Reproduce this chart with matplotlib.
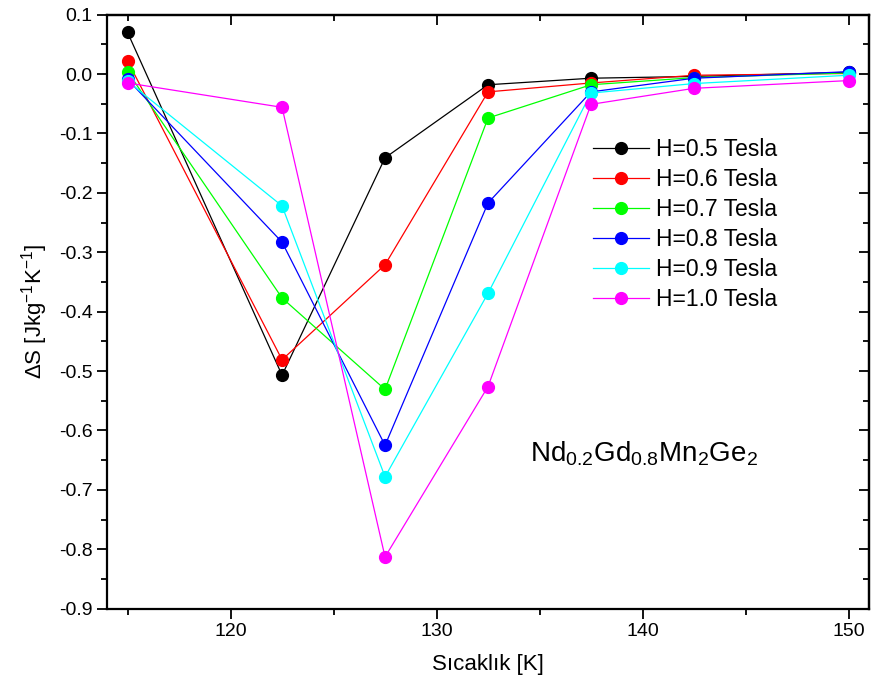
import matplotlib
matplotlib.use('Agg')
import matplotlib.pyplot as plt
from matplotlib.ticker import MultipleLocator, FormatStrFormatter

plt.rcParams['font.family'] = ['Liberation Sans', 'DejaVu Sans']
plt.rcParams['mathtext.fontset'] = 'custom'
plt.rcParams['mathtext.rm'] = 'Liberation Sans'
plt.rcParams['mathtext.it'] = 'Liberation Sans'
plt.rcParams['axes.unicode_minus'] = False

# Temperature points (K)
temps = [115, 122.5, 127.5, 132.5, 137.5, 142.5, 150]

# Entropy change for each field
h05 = [0.070, -0.507, -0.141, -0.018, -0.007, -0.004, 0.003]
h06 = [0.022, -0.481, -0.321, -0.030, -0.015, -0.002, 0.001]
h07 = [0.004, -0.377, -0.531, -0.074, -0.018, -0.006, 0.002]
h08 = [-0.009, -0.283, -0.625, -0.217, -0.030, -0.007, 0.004]
h09 = [-0.012, -0.222, -0.678, -0.369, -0.032, -0.016, -0.002]
h10 = [-0.015, -0.056, -0.813, -0.526, -0.051, -0.024, -0.011]

series = [h05, h06, h07, h08, h09, h10]
labels = ['H=0.5 Tesla', 'H=0.6 Tesla', 'H=0.7 Tesla',
          'H=0.8 Tesla', 'H=0.9 Tesla', 'H=1.0 Tesla']
colors = ['#000000', '#FF0000', '#00FF00', '#0000FF', '#00FFFF', '#FF00FF']

fig = plt.figure(figsize=(8.74, 6.98), dpi=100)
ax = fig.add_axes([0.1224, 0.128, 0.872, 0.851])

for ys, lab, c in zip(series, labels, colors):
    ax.plot(temps, ys, color=c, lw=0.9, marker='o', markersize=8.5,
            markeredgecolor=c, markerfacecolor=c, label=lab)

ax.set_xlim(114, 151)
ax.set_ylim(-0.9, 0.1)

ax.xaxis.set_major_locator(MultipleLocator(10))
ax.xaxis.set_minor_locator(MultipleLocator(5))
ax.yaxis.set_major_locator(MultipleLocator(0.1))
ax.yaxis.set_minor_locator(MultipleLocator(0.05))
ax.yaxis.set_major_formatter(FormatStrFormatter('%.1f'))

ax.tick_params(which='both', direction='out', width=1.3, labelsize=14)
ax.tick_params(which='major', length=7)
ax.tick_params(which='minor', length=4)

# top and right axes with inward ticks, no labels
top = ax.secondary_xaxis('top')
top.xaxis.set_major_locator(MultipleLocator(10))
top.xaxis.set_minor_locator(MultipleLocator(5))
top.tick_params(which='both', direction='in', width=1.3, labeltop=False)
top.tick_params(which='major', length=7)
top.tick_params(which='minor', length=4)
right = ax.secondary_yaxis('right')
right.yaxis.set_major_locator(MultipleLocator(0.1))
right.yaxis.set_minor_locator(MultipleLocator(0.05))
right.tick_params(which='both', direction='in', width=1.3, labelright=False)
right.tick_params(which='major', length=7)
right.tick_params(which='minor', length=4)

for sp in list(ax.spines.values()) + [top.spines['top'], right.spines['right']]:
    sp.set_linewidth(1.6)

ax.set_xlabel('Sıcaklık [K]', fontsize=16, labelpad=10)
ax.set_ylabel(r'$\Delta$S [Jkg$^{-1}$K$^{-1}$]', fontsize=16, labelpad=6)

ax.legend(loc='upper left', bbox_to_anchor=(0.638, 0.792), frameon=False,
          fontsize=16.5, handlelength=2.45, handletextpad=0.3, labelspacing=0.3,
          borderpad=0, borderaxespad=0)

ax.text(0.555, 0.247, r'Nd$_{0.2}$Gd$_{0.8}$Mn$_2$Ge$_2$', transform=ax.transAxes,
        fontsize=20, va='baseline')

fig.savefig('out.png', dpi=100)
